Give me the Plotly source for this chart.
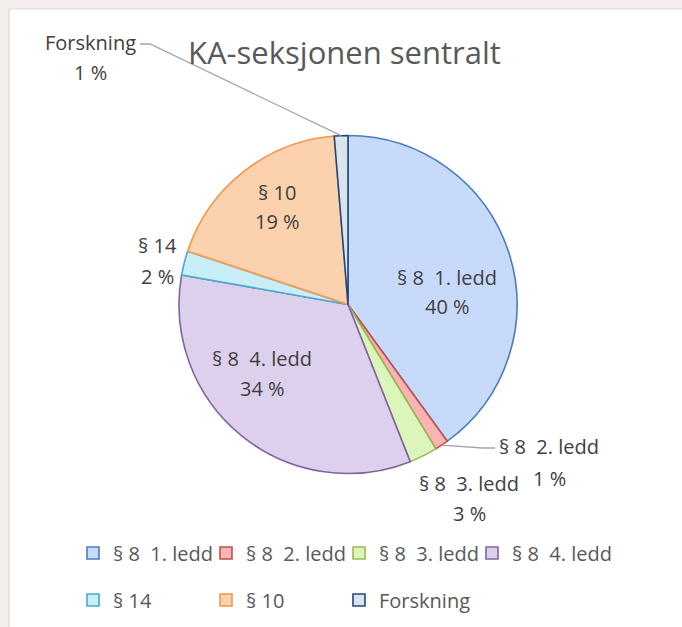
import math
import plotly.graph_objects as go

# ---------------- data ----------------
categories = ["§ 8  1. ledd", "§ 8  2. ledd", "§ 8  3. ledd", "§ 8  4. ledd", "§ 14", "§ 10", "Forskning"]
shares = [40.0, 1.3, 2.7, 33.8, 2.3, 18.6, 1.3]
title_text = "KA-seksjonen sentralt"

# ---------------- style ----------------
fill_colors = ["#c8dafa", "#f9b5b4", "#dcf5bb", "#ddd0ec", "#c8eff9", "#fcd1ae", "#dde3ec"]
line_colors = ["#4a7ebb", "#c0504d", "#9bbb59", "#8064a2", "#4bacc6", "#f79646", "#1f497d"]
FONT = "'Open Sans', Lato, sans-serif"
LABEL_SIZE = 20
W, H = 682, 627
CX, CY, R = 348, 304.5, 169  # pie centre / radius in pixels


def px(x, y):
    return x / W, 1 - y / H


def disp(s):
    return s.replace("  ", " \u00a0")


fig = go.Figure()
fig.add_trace(go.Pie(
    labels=[disp(c) for c in categories],
    values=shares,
    sort=False,
    direction="clockwise",
    rotation=0,
    textinfo="none",
    showlegend=False,
    hoverinfo="label+percent",
    marker=dict(colors=fill_colors, line=dict(color=line_colors, width=1.6)),
    domain=dict(x=[(CX - R) / W, (CX + R) / W], y=[1 - (CY + R) / H, 1 - (CY - R) / H]),
))

# legend: Excel-like grid (4 columns, 133 px apart, two rows)
LEG_X0, LEG_DX, LEG_ROWS, LEG_COLS = 73, 133, (553, 600), 4
legends = {}
for i, (cat, fc, lc) in enumerate(zip(categories, fill_colors, line_colors)):
    key = "legend" if i == 0 else f"legend{i + 1}"
    fig.add_trace(go.Scatter(
        x=[None], y=[None], mode="markers", name=disp(cat), legend=key,
        marker=dict(symbol="square", size=12, color=fc, line=dict(color=lc, width=1.6)),
    ))
    x0, y0 = px(LEG_X0 + LEG_DX * (i % LEG_COLS), LEG_ROWS[i // LEG_COLS])
    legends[key] = dict(x=x0, y=y0, xanchor="left", yanchor="middle", bgcolor="rgba(0,0,0,0)",
                        font=dict(family=FONT, size=LABEL_SIZE, color="#595959"), itemwidth=30)

# ---------------- labels ----------------
pct = [f"{round(v / sum(shares) * 100)} %" for v in shares]
label_pos = [(447, 277, 307), (549, 447, 478), (469, 483, 513), (262, 358, 388),
             (157, 245, 276), (277, 192, 221), (90, 42, 72)]
annotations = []
for i, cat in enumerate(categories):
    x, y1, y2 = label_pos[i]
    for txt, yy in ((disp(cat), y1), (pct[i], y2)):
        ax_, ay_ = px(x, yy)
        annotations.append(dict(x=ax_, y=ay_, xref="paper", yref="paper", text=txt, showarrow=False,
                                xanchor="center", yanchor="middle",
                                font=dict(family=FONT, size=LABEL_SIZE, color="#404040")))

annotations.append(dict(x=px(344, 52)[0], y=px(344, 52)[1], xref="paper", yref="paper", text=title_text,
                        showarrow=False, xanchor="center", yanchor="middle",
                        font=dict(family=FONT, size=31, color="#595959")))

# leader lines from slice edge (computed from data angles) to label
cum = 0
mids = []
tot = sum(shares)
for v in shares:
    mids.append((cum + v / 2) / tot * 360)
    cum += v


def edge(i):
    a = math.radians(mids[i])
    return CX + R * math.sin(a), CY - R * math.cos(a)


shapes = [dict(type="rect", xref="paper", yref="paper", x0=px(9, 0)[0], x1=1.02, y0=-0.02, y1=px(0, 9)[1],
               fillcolor="white", line=dict(color="#d9d9d9", width=1.2), layer="below")]

ex, ey = edge(6)
pts = [(140, 44), (150, 44), (ex, ey)]
path = "M " + " L ".join(f"{px(a, b)[0]},{px(a, b)[1]}" for a, b in pts)
shapes.append(dict(type="path", xref="paper", yref="paper", path=path, line=dict(color="#a6a6a6", width=1.3)))
ex, ey = edge(1)
pts = [(ex, ey), (483, 448), (495, 448)]
path = "M " + " L ".join(f"{px(a, b)[0]},{px(a, b)[1]}" for a, b in pts)
shapes.append(dict(type="path", xref="paper", yref="paper", path=path, line=dict(color="#a6a6a6", width=1.3)))

fig.update_layout(
    width=W, height=H,
    margin=dict(l=0, r=0, t=0, b=0),
    paper_bgcolor="#f4efec",
    plot_bgcolor="rgba(0,0,0,0)",
    xaxis=dict(visible=False), yaxis=dict(visible=False),
    annotations=annotations,
    shapes=shapes,
    **legends,
)

fig.write_html(
    "out.html",
    config={"displayModeBar": False},
    post_script="document.body.style.margin='0';document.documentElement.style.overflow='hidden';"
                "document.body.style.overflow='hidden';",
)
